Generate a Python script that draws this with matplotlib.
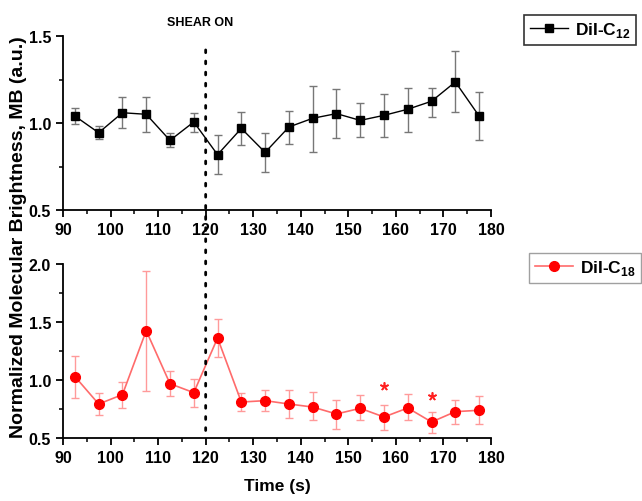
import matplotlib
matplotlib.use("Agg")
import matplotlib.pyplot as plt
from matplotlib.patches import ConnectionPatch
from matplotlib.ticker import MultipleLocator, FormatStrFormatter
import numpy as np

plt.rcParams['font.family'] = ['Liberation Sans', 'DejaVu Sans']
plt.rcParams['font.weight'] = 'bold'
plt.rcParams['mathtext.fontset'] = 'custom'
plt.rcParams['mathtext.rm'] = 'Liberation Sans:bold'
plt.rcParams['mathtext.bf'] = 'Liberation Sans:bold'

time_s = [92.5, 97.5, 102.5, 107.5, 112.5, 117.5, 122.5, 127.5, 132.5,
          137.5, 142.5, 147.5, 152.5, 157.5, 162.5, 167.5, 172.5, 177.5]

# DiI-C12: mean and error-bar ends
c12_mean = [1.04, 0.944, 1.059, 1.05, 0.90, 1.006, 0.818, 0.969, 0.831,
            0.977, 1.027, 1.054, 1.015, 1.044, 1.079, 1.125, 1.236, 1.04]
c12_upper = [1.088, 0.981, 1.149, 1.151, 0.944, 1.059, 0.933, 1.065, 0.944,
             1.071, 1.215, 1.193, 1.115, 1.169, 1.201, 1.201, 1.412, 1.176]
c12_lower = [0.996, 0.906, 0.971, 0.948, 0.86, 0.95, 0.707, 0.872, 0.718,
             0.879, 0.835, 0.914, 0.918, 0.92, 0.948, 1.036, 1.065, 0.904]

# DiI-C18: mean and error-bar ends
c18_mean = [1.03, 0.793, 0.874, 1.425, 0.968, 0.891, 1.362, 0.81, 0.822,
            0.793, 0.767, 0.707, 0.756, 0.681, 0.759, 0.638, 0.727, 0.739]
c18_upper = [1.204, 0.891, 0.983, 1.937, 1.075, 1.011, 1.529, 0.888, 0.914,
             0.914, 0.897, 0.825, 0.868, 0.787, 0.879, 0.724, 0.828, 0.862]
c18_lower = [0.848, 0.698, 0.756, 0.902, 0.862, 0.767, 1.2, 0.736, 0.733,
             0.672, 0.652, 0.58, 0.652, 0.569, 0.652, 0.546, 0.624, 0.621]

# significance markers
star_x = [157.5, 167.5]
star_y = [0.945, 0.865]

shear_time = 120

W, H = 642, 502
fig = plt.figure(figsize=(W / 100, H / 100), dpi=100)

def frac(x0, y0, x1, y1):
    return [x0 / W, 1 - y1 / H, (x1 - x0) / W, (y1 - y0) / H]

ax1 = fig.add_axes(frac(63, 37, 491, 211))
ax2 = fig.add_axes(frac(63, 265, 491, 439))

def style(ax, ylim):
    ax.set_xlim(90, 180)
    ax.set_ylim(*ylim)
    ax.xaxis.set_major_locator(MultipleLocator(10))
    ax.xaxis.set_minor_locator(MultipleLocator(5))
    ax.yaxis.set_major_locator(MultipleLocator(0.5))
    ax.yaxis.set_minor_locator(MultipleLocator(0.25))
    ax.yaxis.set_major_formatter(FormatStrFormatter('%.1f'))
    for s in ('top', 'right'):
        ax.spines[s].set_visible(False)
    for s in ('left', 'bottom'):
        ax.spines[s].set_linewidth(1.3)
    ax.tick_params(which='major', direction='out', length=5, width=1.3,
                   labelsize=11.5)
    ax.tick_params(which='minor', direction='out', length=3, width=1.1)
    for lbl in ax.get_xticklabels() + ax.get_yticklabels():
        lbl.set_fontweight('bold')

t = np.array(time_s)

m1 = np.array(c12_mean)
err1 = [m1 - np.array(c12_lower), np.array(c12_upper) - m1]
ax1.errorbar(t, m1, yerr=err1, fmt='none', ecolor='#777777', elinewidth=1.0,
             capsize=2.8, capthick=1.0, zorder=2)
ax1.plot(t, m1, color='black', lw=1.0, marker='s', ms=6,
         mfc='black', mec='black', label=r'DiI-C$_{\mathbf{12}}$', zorder=3)
style(ax1, (0.5, 1.5))

m2 = np.array(c18_mean)
err2 = [m2 - np.array(c18_lower), np.array(c18_upper) - m2]
ax2.errorbar(t, m2, yerr=err2, fmt='none', ecolor='#ff9a9a', elinewidth=1.0,
             capsize=2.8, capthick=1.0, zorder=2)
ax2.plot(t, m2, color='#ff6b6b', lw=1.2, marker='o', ms=7,
         mfc='#ff0000', mec='#ff0000', label=r'DiI-C$_{\mathbf{18}}$', zorder=3)
ax2.scatter(star_x, star_y, marker=(5, 2, 0), s=28, color='#ff2020',
            linewidths=1.2, zorder=4)
style(ax2, (0.5, 2.0))

# shear-onset marker spanning both panels
con = ConnectionPatch(xyA=(shear_time, 1.42), coordsA=ax1.transData,
                      xyB=(shear_time, 0.5), coordsB=ax2.transData,
                      color='black', lw=2.0, linestyle=(0, (1, 3)))
fig.add_artist(con)

fig.text(200 / W, 1 - 23 / H, 'SHEAR ON', ha='center', va='center',
         fontsize=9, fontweight='bold')

leg1 = ax1.legend(loc='center', bbox_to_anchor=(580 / W, 1 - 31 / H),
                  bbox_transform=fig.transFigure, frameon=True, fancybox=False,
                  fontsize=12.5, handlelength=2.2, borderpad=0.3,
                  handletextpad=0.4, borderaxespad=0)
leg1.get_frame().set_edgecolor('black')
leg1.get_frame().set_linewidth(1.2)
leg2 = ax2.legend(loc='center', bbox_to_anchor=(585 / W, 1 - 269 / H),
                  bbox_transform=fig.transFigure, frameon=True, fancybox=False,
                  fontsize=12.5, handlelength=2.2, borderpad=0.3,
                  handletextpad=0.4, borderaxespad=0)
leg2.get_frame().set_edgecolor('#888888')
leg2.get_frame().set_linewidth(1.0)
for leg in (leg1, leg2):
    for txt in leg.get_texts():
        txt.set_fontweight('bold')

fig.text(19 / W, 1 - 237 / H, 'Normalized Molecular Brightness, MB (a.u.)',
         rotation=90, ha='center', va='center', fontsize=14,
         fontweight='bold')
fig.text(277 / W, 1 - 487 / H, 'Time (s)', ha='center', va='center',
         fontsize=12.5, fontweight='bold')

fig.savefig('out.png', dpi=100)
